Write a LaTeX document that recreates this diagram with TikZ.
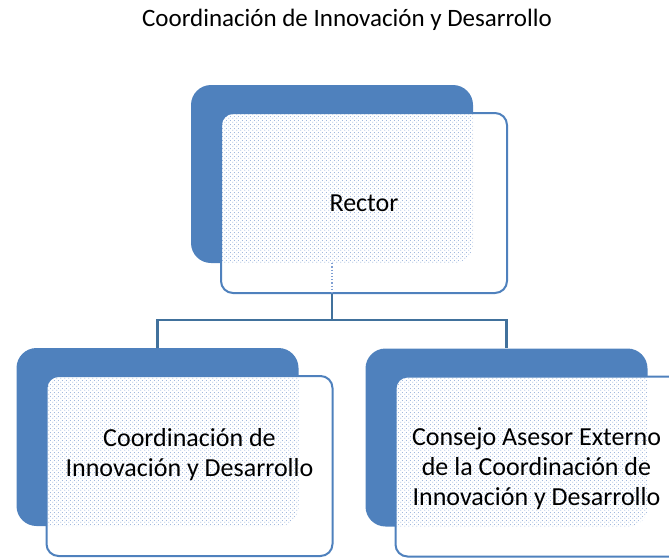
\documentclass[tikz,border=0pt]{standalone}
\usepackage{fontspec}
\setmainfont{Carlito}
\usetikzlibrary{patterns,calc}
\definecolor{accent}{HTML}{4F81BD}
\definecolor{linkblue}{HTML}{41719C}
\definecolor{dotblue}{HTML}{7F9FD3}
\pgfdeclarepatternformonly{boxdots}{\pgfpointorigin}{\pgfpoint{4pt}{4pt}}{\pgfpoint{4pt}{4pt}}{
  \pgfpathcircle{\pgfpoint{1pt}{1pt}}{0.6pt}
  \pgfpathcircle{\pgfpoint{3pt}{3pt}}{0.6pt}
  \pgfusepath{fill}}
\tikzset{
  back/.style={fill=accent, draw=none, rounded corners=20pt,
    minimum width=282pt, minimum height=178pt, inner sep=0pt},
  front/.style={fill=white, draw=accent, line width=2pt, rounded corners=12pt,
    minimum width=286pt, minimum height=180pt, inner sep=0pt,
    path picture={
      \clip[rounded corners=20pt] (#1.south west) rectangle (#1.north east);
      \fill[pattern=boxdots, pattern color=dotblue]
        (path picture bounding box.south west) rectangle
        (path picture bounding box.north east);}},
  boxtext/.style={align=center, font=\fontsize{26}{30}\selectfont, inner sep=0pt},
  link/.style={draw=linkblue, line width=2.5pt}
}
\begin{document}
\begin{tikzpicture}[x=1pt,y=-1pt]
  \useasboundingbox (0,0) rectangle (669,558);
  \node[boxtext, font=\fontsize{25}{30}\selectfont, anchor=base] (title) at (347,26)
    {Coordinación de Innovación y Desarrollo};
  % back and front boxes
  \foreach \name/\x/\y in {rector/332/174, coord/157.5/437, consejo/506.5/437.5} {
    \node[back] (\name-back) at (\x,\y) {};
    \node[front=\name-back] (\name) at ($(\name-back)+(32,29)$) {};
  }
  % connectors
  \coordinate (split) at ($(rector-back.south)+(0,57)$);
  \draw[dotblue, line width=1.2pt, dotted] (rector-back.south) -- (rector-back.south |- rector.south);
  \draw[link] (rector-back.south |- rector.south) -- (split) -| (coord-back.north);
  \draw[link] (split) -| (consejo-back.north);
  % texts
  \node[boxtext] (rectorText) at (rector) {Rector};
  \node[boxtext] (coordText) at ($(coord)+(0,-11)$) {Coordinación de\\Innovación y Desarrollo};
  \node[boxtext] (consejoText) at ($(consejo)+(-2,2)$)
    {Consejo Asesor Externo\\de la Coordinación de\\Innovación y Desarrollo};
\end{tikzpicture}
\end{document}
